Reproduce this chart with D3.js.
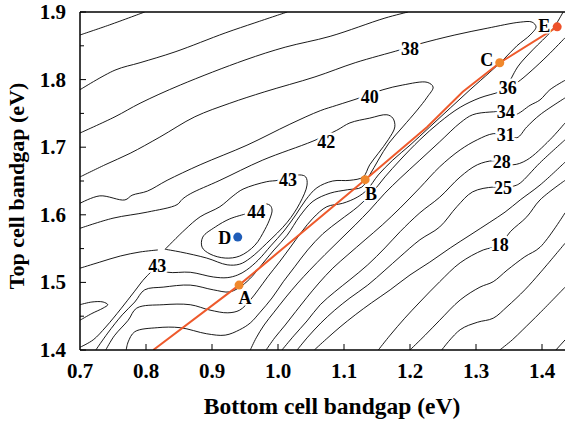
<!DOCTYPE html>
<html><head><meta charset="utf-8">
<script src="https://cdn.jsdelivr.net/npm/d3@7"></script>
<style>html,body{margin:0;padding:0;background:#fff}svg{display:block}</style>
</head><body><svg id="chart" width="565" height="425"></svg>
<script>
const xTicks = [0.7,0.8,0.9,1.0,1.1,1.2,1.3,1.4];
const yTicks = [1.4,1.5,1.6,1.7,1.8,1.9];
const yMinorTicks = [1.45,1.55,1.65,1.75,1.85];
const xDomain = [0.7,1.4];
const yDomain = [1.4,1.9];

// contour lines (bottom bandgap, top bandgap)
const lineU1 = [[0.700,1.866],[0.745,1.881],[0.798,1.900]];
const lineU2 = [[0.700,1.785],[0.753,1.814],[0.791,1.825],[0.844,1.841],[0.920,1.869],[0.965,1.884],[1.014,1.900]];
const lineU3 = [[0.700,1.721],[0.753,1.745],[0.791,1.765],[0.852,1.792],[0.950,1.829],[1.011,1.848],[1.079,1.864],[1.162,1.891],[1.197,1.900]];
const line38 = [[0.700,1.656],[0.738,1.674],[0.776,1.691],[0.821,1.715],[0.874,1.745],[0.927,1.765],[0.980,1.782],[1.056,1.804],[1.117,1.825],[1.185,1.844],[1.215,1.853],[1.268,1.866],[1.317,1.876],[1.367,1.885],[1.385,1.885],[1.391,1.878],[1.382,1.866],[1.362,1.850],[1.341,1.829],[1.321,1.811],[1.291,1.785],[1.261,1.758],[1.230,1.730],[1.200,1.703],[1.174,1.681],[1.152,1.659],[1.135,1.637],[1.120,1.626],[1.098,1.617],[1.074,1.612],[1.053,1.595],[1.036,1.575],[1.018,1.551],[1.002,1.530],[0.985,1.509],[0.970,1.489],[0.958,1.474],[0.942,1.459],[0.924,1.455],[0.897,1.459],[0.867,1.467],[0.826,1.467],[0.786,1.462],[0.773,1.444],[0.752,1.421],[0.739,1.400]];
const line40 = [[0.700,1.617],[0.730,1.628],[0.768,1.622],[0.779,1.629],[0.802,1.635],[0.832,1.651],[0.882,1.674],[0.953,1.703],[1.018,1.734],[1.064,1.754],[1.089,1.762],[1.124,1.773],[1.159,1.785],[1.189,1.792],[1.226,1.796],[1.235,1.789],[1.226,1.774],[1.211,1.755],[1.189,1.730],[1.168,1.706],[1.152,1.681],[1.139,1.659],[1.127,1.641],[1.105,1.637],[1.079,1.632],[1.053,1.620],[1.033,1.598],[1.014,1.570],[0.994,1.548],[0.976,1.527],[0.961,1.509],[0.945,1.495],[0.927,1.486],[0.902,1.489],[0.867,1.496],[0.826,1.493],[0.798,1.489],[0.783,1.471],[0.764,1.452],[0.742,1.425],[0.724,1.400]];
const line42 = [[0.700,1.580],[0.750,1.595],[0.802,1.604],[0.847,1.615],[0.855,1.623],[0.867,1.631],[0.912,1.651],[0.977,1.681],[1.053,1.709],[1.089,1.725],[1.109,1.736],[1.139,1.743],[1.165,1.748],[1.174,1.743],[1.177,1.730],[1.167,1.711],[1.152,1.691],[1.139,1.674],[1.129,1.656],[1.109,1.651],[1.083,1.650],[1.059,1.640],[1.042,1.622],[1.027,1.600],[1.009,1.576],[0.989,1.554],[0.970,1.533],[0.952,1.518],[0.939,1.511],[0.923,1.507],[0.902,1.508],[0.867,1.515],[0.833,1.515],[0.817,1.521],[0.800,1.508],[0.782,1.486],[0.762,1.461],[0.739,1.434],[0.720,1.415],[0.700,1.404]];
const line43 = [[0.829,1.549],[0.859,1.578],[0.882,1.597],[0.912,1.612],[0.932,1.628],[0.947,1.638],[0.983,1.649],[1.000,1.651],[1.033,1.659],[1.042,1.656],[1.044,1.644],[1.033,1.617],[1.014,1.589],[0.983,1.558],[0.958,1.536],[0.942,1.527],[0.923,1.526],[0.892,1.536],[0.852,1.545],[0.829,1.549]];
const line44 = [[0.979,1.617],[0.988,1.614],[0.991,1.607],[0.988,1.595],[0.980,1.578],[0.965,1.555],[0.942,1.539],[0.920,1.536],[0.897,1.542],[0.885,1.552],[0.886,1.567],[0.905,1.582],[0.927,1.594],[0.950,1.601]];
const lineP = [[0.700,1.521],[0.730,1.530],[0.761,1.539],[0.791,1.545],[0.818,1.548]];
const lineT = [[0.700,1.467],[0.718,1.471],[0.735,1.471],[0.742,1.467],[0.735,1.462],[0.718,1.454],[0.700,1.444]];
const lineL1 = [[1.432,1.900],[1.415,1.873],[1.386,1.844],[1.364,1.820],[1.352,1.799]];
const line36 = [[1.435,1.862],[1.409,1.836],[1.385,1.814],[1.367,1.799],[1.355,1.791],[1.336,1.782],[1.306,1.773],[1.276,1.759],[1.245,1.737],[1.215,1.711],[1.185,1.681],[1.162,1.656],[1.142,1.632],[1.121,1.612],[1.094,1.592],[1.068,1.572],[1.045,1.548],[1.026,1.524],[1.008,1.501],[0.991,1.477],[0.973,1.456],[0.958,1.440],[0.942,1.430],[0.920,1.422],[0.892,1.424],[0.852,1.433],[0.817,1.433],[0.783,1.427],[0.773,1.412],[0.770,1.400]];
const line34 = [[1.435,1.799],[1.412,1.785],[1.397,1.770],[1.382,1.762],[1.359,1.748],[1.342,1.752],[1.321,1.752],[1.295,1.748],[1.276,1.736],[1.245,1.708],[1.215,1.681],[1.185,1.654],[1.162,1.632],[1.139,1.607],[1.117,1.585],[1.094,1.563],[1.071,1.541],[1.048,1.518],[1.030,1.499],[1.011,1.477],[0.994,1.456],[0.979,1.437],[0.967,1.418],[0.958,1.400]];
const line31 = [[0.982,1.400],[0.995,1.418],[1.011,1.437],[1.027,1.457],[1.044,1.478],[1.062,1.499],[1.083,1.521],[1.106,1.541],[1.132,1.563],[1.158,1.585],[1.185,1.610],[1.215,1.640],[1.245,1.671],[1.276,1.696],[1.302,1.711],[1.326,1.720],[1.344,1.718],[1.362,1.714],[1.377,1.730],[1.397,1.748],[1.435,1.773]];
const line28 = [[1.006,1.400],[1.024,1.421],[1.044,1.443],[1.064,1.467],[1.086,1.486],[1.109,1.504],[1.136,1.526],[1.162,1.551],[1.185,1.575],[1.215,1.603],[1.245,1.626],[1.276,1.656],[1.302,1.674],[1.326,1.680],[1.339,1.678],[1.356,1.674],[1.377,1.681],[1.412,1.711],[1.435,1.736]];
const line25 = [[1.029,1.400],[1.045,1.419],[1.065,1.440],[1.086,1.459],[1.109,1.477],[1.136,1.496],[1.162,1.518],[1.185,1.538],[1.215,1.563],[1.245,1.582],[1.271,1.612],[1.295,1.634],[1.326,1.641],[1.341,1.640],[1.359,1.643],[1.367,1.647],[1.397,1.677],[1.435,1.711]];
const line22 = [[1.055,1.400],[1.073,1.416],[1.094,1.434],[1.117,1.452],[1.142,1.470],[1.170,1.489],[1.200,1.511],[1.230,1.530],[1.261,1.551],[1.291,1.570],[1.321,1.589],[1.344,1.604],[1.367,1.622],[1.397,1.644],[1.435,1.678]];
const line18 = [[1.152,1.400],[1.170,1.422],[1.192,1.447],[1.215,1.471],[1.245,1.501],[1.276,1.529],[1.311,1.548],[1.336,1.555],[1.352,1.575],[1.377,1.597],[1.397,1.622],[1.435,1.651]];
const line15 = [[1.200,1.400],[1.223,1.422],[1.245,1.444],[1.276,1.474],[1.306,1.493],[1.326,1.501],[1.347,1.518],[1.374,1.538],[1.397,1.552],[1.435,1.603]];
const line12 = [[1.248,1.400],[1.276,1.430],[1.302,1.441],[1.326,1.447],[1.347,1.464],[1.374,1.489],[1.397,1.514],[1.435,1.558]];
const line9 = [[1.336,1.400],[1.355,1.415],[1.371,1.430],[1.397,1.455],[1.435,1.493]];
const line6 = [[1.421,1.400],[1.435,1.415]];

const contours = [lineU1,lineU2,lineU3,line38,line40,line42,line43,line44,lineP,lineT,lineL1,
  line36,line34,line31,line28,line25,line22,line18,line15,line12,line9,line6];

const labelText = ["38","40","42","43","44","43","36","34","31","28","25","18"];
const labelX = [1.200,1.139,1.073,1.015,0.967,0.817,1.348,1.345,1.345,1.339,1.341,1.336];
const labelY = [1.845,1.774,1.708,1.651,1.604,1.524,1.788,1.752,1.718,1.678,1.640,1.555];

const pathX = [0.811,0.941,1.132,1.226,1.280,1.336,1.423];
const pathY = [1.400,1.496,1.652,1.730,1.782,1.825,1.878];

const ptName = ["A","B","C","E","D"];
const ptX = [0.941,1.132,1.336,1.423,0.939];
const ptY = [1.496,1.652,1.825,1.878,1.567];
const ptColor = ["#f0882c","#f0882c","#f0882c","#ee512a","#1f5db8"];

const svg = d3.select("#chart");
const x = d3.scaleLinear().domain(xDomain).range([80,542]);
const y = d3.scaleLinear().domain(yDomain).range([350,12]);
const font = "'Liberation Serif','Times New Roman',serif";

svg.append("defs").append("clipPath").attr("id","clip")
  .append("rect").attr("x",80).attr("y",12).attr("width",485).attr("height",338);

const g = svg.append("g").attr("clip-path","url(#clip)");
const line = d3.line().x(d=>x(d[0])).y(d=>y(d[1])).curve(d3.curveCatmullRom.alpha(0.5));
g.selectAll("path.c").data(contours).join("path").attr("class","c")
  .attr("d",line).attr("fill","none").attr("stroke","#000").attr("stroke-width",0.9);

g.selectAll("text.lab").data(labelText).join("text").attr("class","lab")
  .attr("x",(d,i)=>x(labelX[i])).attr("y",(d,i)=>y(labelY[i])+6)
  .attr("text-anchor","middle").attr("font-family",font).attr("font-weight","bold")
  .attr("font-size",18).attr("fill","#000")
  .attr("stroke","#fff").attr("stroke-width",5).attr("paint-order","stroke").text(d=>d);

const pline = d3.line().x((d,i)=>x(pathX[i])).y((d,i)=>y(pathY[i]));
g.append("path").attr("d",pline(pathX)).attr("fill","none").attr("stroke","#ee5a2c").attr("stroke-width",2);

g.selectAll("circle.pt").data(ptName).join("circle").attr("class","pt")
  .attr("cx",(d,i)=>x(ptX[i])).attr("cy",(d,i)=>y(ptY[i])).attr("r",4.5)
  .attr("fill",(d,i)=>ptColor[i]);

const ptDx=[6,6,-13,-13,-13], ptDy=[13,14,-3,-1,1];
svg.selectAll("text.pt").data(ptName).join("text").attr("class","pt")
  .attr("x",(d,i)=>x(ptX[i])+ptDx[i]).attr("y",(d,i)=>y(ptY[i])+ptDy[i]+6)
  .attr("text-anchor","middle").attr("font-family",font).attr("font-weight","bold")
  .attr("font-size",18).attr("stroke","#fff").attr("stroke-width",3).attr("paint-order","stroke").text(d=>d);

// frame
svg.append("line").attr("x1",80).attr("x2",80).attr("y1",12).attr("y2",350).attr("stroke","#000").attr("stroke-width",1.5);
svg.append("line").attr("x1",80).attr("x2",565).attr("y1",350).attr("y2",350).attr("stroke","#000").attr("stroke-width",1.5);
svg.append("line").attr("x1",80).attr("x2",565).attr("y1",12).attr("y2",12).attr("stroke","#000").attr("stroke-width",1.5);

svg.selectAll("line.xt").data(xTicks.slice(1)).join("line").attr("class","xt")
  .attr("x1",d=>x(d)).attr("x2",d=>x(d)).attr("y1",350).attr("y2",344).attr("stroke","#000");
svg.selectAll("line.yt").data(yTicks).join("line").attr("class","yt")
  .attr("x1",80).attr("x2",86).attr("y1",d=>y(d)).attr("y2",d=>y(d)).attr("stroke","#000");
svg.selectAll("line.ym").data(yMinorTicks).join("line").attr("class","ym")
  .attr("x1",80).attr("x2",84).attr("y1",d=>y(d)).attr("y2",d=>y(d)).attr("stroke","#000");

svg.selectAll("text.xl").data(xTicks).join("text").attr("class","xl")
  .attr("x",d=>x(d)).attr("y",378).attr("text-anchor","middle")
  .attr("font-family",font).attr("font-weight","bold").attr("font-size",21).text(d=>d.toFixed(1));
svg.selectAll("text.yl").data(yTicks).join("text").attr("class","yl")
  .attr("x",66).attr("y",d=>y(d)+7).attr("text-anchor","end")
  .attr("font-family",font).attr("font-weight","bold").attr("font-size",21).text(d=>d.toFixed(1));

svg.append("text").attr("x",332).attr("y",414).attr("text-anchor","middle")
  .attr("font-family",font).attr("font-weight","bold").attr("font-size",23.5).text("Bottom cell bandgap (eV)");
svg.append("text").attr("transform","translate(24,186) rotate(-90)").attr("text-anchor","middle")
  .attr("font-family",font).attr("font-weight","bold").attr("font-size",22).text("Top cell bandgap (eV)");
</script></body></html>
